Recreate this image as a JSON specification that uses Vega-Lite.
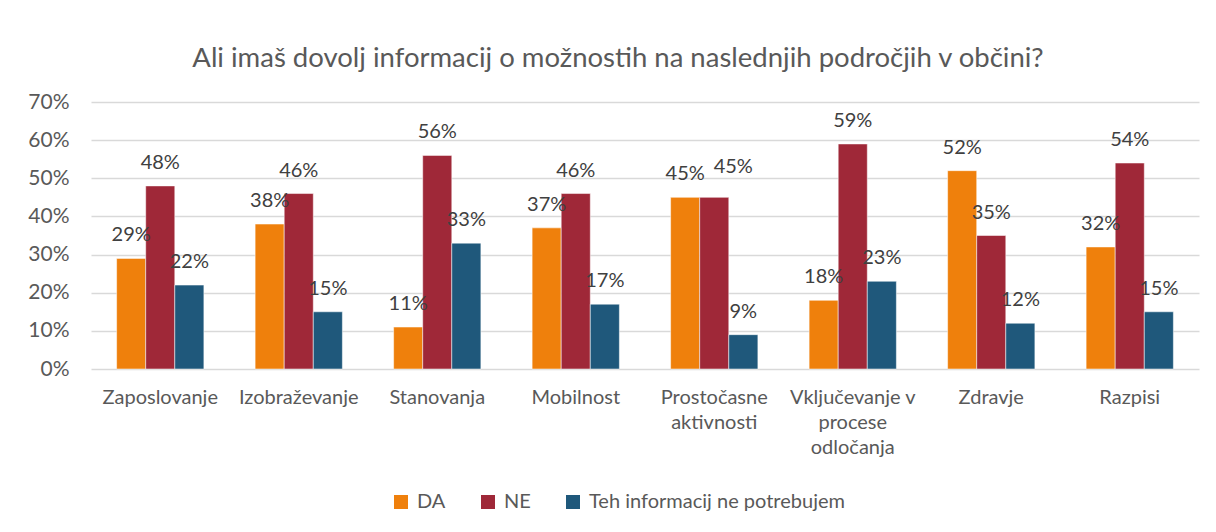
{
  "$schema": "https://vega.github.io/schema/vega-lite/v6.json",
  "autosize": "none",
  "width": 1108,
  "height": 267,
  "padding": {"left": 91, "top": 102, "right": 17, "bottom": 163},
  "background": "white",
  "title": {
    "text": "Ali imaš dovolj informacij o možnostih na naslednjih področjih v občini?",
    "font": "Lato",
    "fontSize": 27.5,
    "fontWeight": "normal",
    "color": "#595959",
    "anchor": "middle",
    "dx": -27,
    "offset": 19
  },
  "data": {
    "values": [
      {"podrocje": "Zaposlovanje", "odgovor": "DA", "delez": 0.29},
      {"podrocje": "Zaposlovanje", "odgovor": "NE", "delez": 0.48},
      {"podrocje": "Zaposlovanje", "odgovor": "Teh informacij ne potrebujem", "delez": 0.22},
      {"podrocje": "Izobraževanje", "odgovor": "DA", "delez": 0.38},
      {"podrocje": "Izobraževanje", "odgovor": "NE", "delez": 0.46},
      {"podrocje": "Izobraževanje", "odgovor": "Teh informacij ne potrebujem", "delez": 0.15},
      {"podrocje": "Stanovanja", "odgovor": "DA", "delez": 0.11},
      {"podrocje": "Stanovanja", "odgovor": "NE", "delez": 0.56},
      {"podrocje": "Stanovanja", "odgovor": "Teh informacij ne potrebujem", "delez": 0.33},
      {"podrocje": "Mobilnost", "odgovor": "DA", "delez": 0.37},
      {"podrocje": "Mobilnost", "odgovor": "NE", "delez": 0.46},
      {"podrocje": "Mobilnost", "odgovor": "Teh informacij ne potrebujem", "delez": 0.17},
      {"podrocje": "Prostočasne aktivnosti", "odgovor": "DA", "delez": 0.45},
      {"podrocje": "Prostočasne aktivnosti", "odgovor": "NE", "delez": 0.45},
      {"podrocje": "Prostočasne aktivnosti", "odgovor": "Teh informacij ne potrebujem", "delez": 0.09},
      {"podrocje": "Vključevanje v procese odločanja", "odgovor": "DA", "delez": 0.18},
      {"podrocje": "Vključevanje v procese odločanja", "odgovor": "NE", "delez": 0.59},
      {"podrocje": "Vključevanje v procese odločanja", "odgovor": "Teh informacij ne potrebujem", "delez": 0.23},
      {"podrocje": "Zdravje", "odgovor": "DA", "delez": 0.52},
      {"podrocje": "Zdravje", "odgovor": "NE", "delez": 0.35},
      {"podrocje": "Zdravje", "odgovor": "Teh informacij ne potrebujem", "delez": 0.12},
      {"podrocje": "Razpisi", "odgovor": "DA", "delez": 0.32},
      {"podrocje": "Razpisi", "odgovor": "NE", "delez": 0.54},
      {"podrocje": "Razpisi", "odgovor": "Teh informacij ne potrebujem", "delez": 0.15}
    ]
  },
  "encoding": {
    "x": {
      "field": "podrocje",
      "type": "nominal",
      "sort": null,
      "scale": {"paddingInner": 0.37, "paddingOuter": 0.185},
      "axis": {
        "title": null,
        "domain": false,
        "ticks": false,
        "labelAngle": 0,
        "labelPadding": 18,
        "labelFont": "Lato",
        "labelFontSize": 20,
        "labelColor": "#595959",
        "labelLineHeight": 25,
        "labelBaseline": "top",
        "labelLimit": 0,
        "labelExpr": "datum.label == 'Prostočasne aktivnosti' ? ['Prostočasne', 'aktivnosti'] : datum.label == 'Vključevanje v procese odločanja' ? ['Vključevanje v', 'procese', 'odločanja'] : datum.label"
      }
    },
    "xOffset": {
      "field": "odgovor",
      "type": "nominal",
      "sort": ["DA", "NE", "Teh informacij ne potrebujem"],
      "scale": {"paddingInner": 0, "paddingOuter": 0}
    },
    "y": {
      "field": "delez",
      "type": "quantitative",
      "scale": {"domain": [0, 0.7], "nice": false},
      "axis": {
        "title": null,
        "format": ".0%",
        "values": [0, 0.1, 0.2, 0.3, 0.4, 0.5, 0.6, 0.7],
        "domain": false,
        "ticks": false,
        "labelPadding": 22,
        "labelFont": "Lato",
        "labelFontSize": 21,
        "labelColor": "#595959",
        "gridColor": "#d9d9d9",
        "gridWidth": 1.5
      }
    }
  },
  "layer": [
    {
      "mark": {"type": "bar", "stroke": "#ffffff", "strokeWidth": 1, "strokeOpacity": 0.5},
      "encoding": {
        "color": {
          "field": "odgovor",
          "type": "nominal",
          "sort": ["DA", "NE", "Teh informacij ne potrebujem"],
          "scale": {
            "domain": ["DA", "NE", "Teh informacij ne potrebujem"],
            "range": ["#ef800c", "#9f2838", "#1f587b"]
          },
          "legend": {
            "title": null,
            "orient": "none",
            "direction": "horizontal",
            "legendX": 300,
            "legendY": 390,
            "symbolType": "square",
            "symbolSize": 196,
            "symbolStrokeWidth": 0,
            "labelFont": "Lato",
            "labelFontSize": 20,
            "labelColor": "#595959",
            "labelOffset": 6,
            "labelLimit": 0,
            "columnPadding": 32
          }
        }
      }
    },
    {
      "transform": [{"filter": "!(datum.podrocje == 'Prostočasne aktivnosti' && datum.odgovor == 'NE')"}],
      "mark": {"type": "text", "baseline": "alphabetic", "dy": -17, "font": "Lato", "fontSize": 20, "color": "#404040"},
      "encoding": {"text": {"field": "delez", "type": "quantitative", "format": ".0%"}}
    },
    {
      "transform": [{"filter": "datum.podrocje == 'Prostočasne aktivnosti' && datum.odgovor == 'NE'"}],
      "mark": {"type": "text", "baseline": "alphabetic", "dy": -24, "dx": 19, "font": "Lato", "fontSize": 20, "color": "#404040"},
      "encoding": {"text": {"field": "delez", "type": "quantitative", "format": ".0%"}}
    }
  ],
  "config": {
    "view": {"stroke": null}
  }
}
